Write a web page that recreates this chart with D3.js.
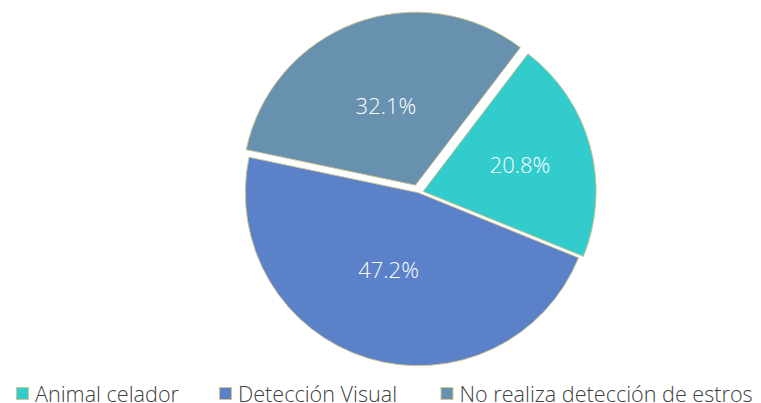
<!DOCTYPE html>
<html>
<head>
<meta charset="utf-8">
<script src="https://cdn.jsdelivr.net/npm/d3@7"></script>
<style>
  html, body { margin: 0; padding: 0; background: #fff; }
  svg { display: block; }
  .lbl { font-family: "Open Sans", Lato, sans-serif; font-weight: 300; }
</style>
</head>
<body>
<svg id="chart" width="761" height="403"></svg>
<script>
// Métodos de detección de estros (% de productores)
const categories = ["Animal celador", "Detección Visual", "No realiza detección de estros"];
const values = [20.8, 47.2, 32.1];
const colors = ["#33CCCC", "#5B81C9", "#6891B0"];

// Layout settings per slice: explode offset (px) and label radius (fraction of r)
const explode = [5, 0, 8];
const labelPos = [0.58, 0.48, 0.49];
const labelTurn = [0, 0.07, 0];

const svg = d3.select("#chart");

const cx = 418.3, cy = 192.7, radius = 173;
const rotation = 37.3 * Math.PI / 180;

const pie = d3.pie().sort(null).value(d => d.value)
  .startAngle(rotation).endAngle(rotation + 2 * Math.PI);

const data = categories.map((c, i) => ({
  name: c, value: values[i], color: colors[i],
  ex: explode[i], lp: labelPos[i], lt: labelTurn[i]
}));
const arcs = pie(data);

const arc = d3.arc().innerRadius(0).outerRadius(radius);

const g = svg.append("g").attr("transform", `translate(${cx},${cy})`);

const slices = g.selectAll("g.slice").data(arcs).join("g")
  .attr("class", "slice")
  .attr("transform", d => {
    const mid = (d.startAngle + d.endAngle) / 2;
    return `translate(${Math.sin(mid) * d.data.ex},${-Math.cos(mid) * d.data.ex})`;
  });

slices.append("path")
  .attr("d", arc)
  .attr("fill", d => d.data.color)
  .attr("stroke", "#CFC596")
  .attr("stroke-width", 1);

slices.append("text")
  .attr("class", "lbl")
  .attr("transform", d => {
    const a = (d.startAngle + d.endAngle) / 2 + d.data.lt;
    const rr = radius * d.data.lp;
    return `translate(${Math.sin(a) * rr},${-Math.cos(a) * rr})`;
  })
  .attr("text-anchor", "middle")
  .attr("dy", "0.36em")
  .attr("fill", "#ffffff")
  .attr("font-size", 22)
  .text(d => d.data.value.toFixed(1) + "%");

// Leyenda
const legendX = [16.5, 219.5, 441];
const legend = svg.append("g").selectAll("g").data(data).join("g")
  .attr("transform", (d, i) => `translate(${legendX[i]},387.5)`);

legend.append("rect")
  .attr("width", 12).attr("height", 12)
  .attr("fill", d => d.color)
  .attr("stroke", "#CFC596")
  .attr("stroke-width", 1);

legend.append("text")
  .attr("class", "lbl")
  .attr("x", 18.5)
  .attr("y", 14)
  .attr("fill", "#404040")
  .attr("font-size", 21.6)
  .text(d => d.name);
</script>
</body>
</html>
